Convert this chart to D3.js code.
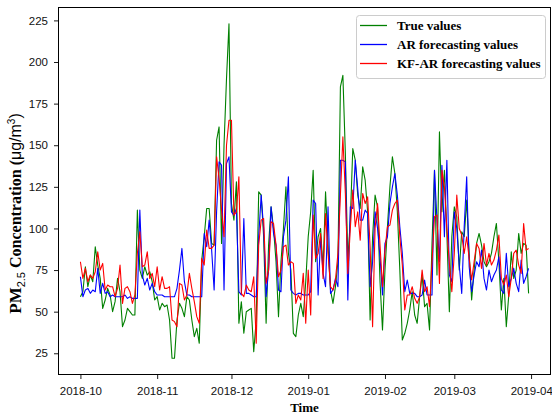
<!DOCTYPE html>
<html>
<head>
<meta charset="utf-8">
<script src="https://cdn.jsdelivr.net/npm/d3@7"></script>
<style>
	body { margin: 0; background: #fff; }
	svg { display: block; }
</style>
</head>
<body>
<div id="chart"></div>
<script>
// daily PM2.5, 2018-10-01 .. 2019-03-31
const startDay		= "2018-10-01";

const trueValues	= [
	59,62,77,65,72,68,89,78,70,52,57,64,60,50,56,70,62,41,45,52,50,48,48,111,75,70,77,72,74,68,57,
	59,51,55,53,54,45,22,22,45,55,52,47,59,57,45,35,40,31,81,95,112,112,91,90,153,161,91,150,190,223,
	115,105,128,43,56,37,50,51,52,26,45,122,120,95,43,90,113,100,80,47,80,100,125,85,75,37,35,48,55,47,68,
	95,110,135,80,95,100,75,122,90,63,55,65,80,185,192,145,81,105,148,141,120,112,137,129,110,45,95,120,113,68,39,
	75,101,125,143,133,110,75,33,37,43,51,62,48,43,59,72,53,55,39,91,135,72,158,110,135,97,50,95,
	113,107,75,98,95,117,85,57,75,91,97,90,80,77,80,85,95,103,80,51,70,41,60,86,70,75,97,85,91,90,61
];
const arValues		= [
	71,59,63,64,61,63,62,76,61,67,61,62,59,60,59,59,59,59,60,58,59,58,58,58,111,72,66,70,63,67,62,
	60,60,60,59,59,59,59,59,64,75,88,68,60,60,59,59,59,59,59,97,89,105,87,63,110,140,138,63,139,143,
	110,108,112,62,60,106,61,61,60,59,59,95,120,100,59,75,113,97,90,63,62,95,105,131,63,61,60,61,61,60,60,
	60,62,117,115,60,95,73,65,113,61,63,70,65,141,141,140,57,113,112,141,124,105,105,111,109,65,80,110,100,83,60,
	91,95,115,125,133,120,101,85,62,69,61,61,61,59,59,60,69,60,60,60,135,105,80,138,95,141,72,68,
	110,100,78,61,101,131,77,62,72,80,77,87,70,63,75,68,72,75,83,63,61,85,65,70,76,67,62,81,67,71,76
];
const kfarValues	= [
	80,70,76,68,72,70,74,86,75,79,63,66,65,65,59,64,78,55,64,65,62,55,60,85,98,77,78,86,70,73,65,
	77,63,71,64,64,65,45,44,41,67,66,57,60,73,64,56,47,43,82,78,99,88,88,90,143,130,111,95,150,165,
	165,108,110,131,61,59,66,63,62,71,31,90,105,106,67,75,104,103,90,71,75,89,90,78,80,79,55,60,57,73,43,
	75,48,108,82,85,97,70,109,85,65,63,69,85,120,155,121,73,100,123,101,110,93,121,115,119,89,41,100,115,90,65,
	87,101,102,111,115,117,95,78,51,60,60,65,58,55,59,75,62,65,53,80,107,108,67,135,125,100,79,62,
	85,120,100,96,85,95,82,69,80,91,88,76,91,78,85,78,81,87,96,70,66,72,59,70,85,87,78,73,103,87,88
];

const seriesNames	= ["True values", "AR forecasting values", "KF-AR forecasting values"];
const seriesColors	= ["green", "blue", "red"];
const yTicks		= [25, 50, 75, 100, 125, 150, 175, 200, 225];
const xTicks		= ["2018-10", "2018-11", "2018-12", "2019-01", "2019-02", "2019-03", "2019-04"];

const canvasWidth	= 552;
const canvasHeight	= 414;
const margin		= { top: 7, right: 1, bottom: 39, left: 58 };
const width			= canvasWidth - margin.left - margin.right;
const height		= canvasHeight - margin.top - margin.bottom;

const parseDay		= d3.utcParse("%Y-%m-%d");
const parseMonth	= d3.utcParse("%Y-%m");
const day0			= parseDay(startDay);
const dates			= trueValues.map((o, i) => d3.utcDay.offset(day0, i));

const series = [trueValues, arValues, kfarValues].map((vals, k) => ({
	name: seriesNames[k],
	color: seriesColors[k],
	values: vals.map((v, i) => ({ date: dates[i], value: v }))
}));

// matplotlib style 5% margins
const xExt	= d3.extent(dates);
const xPad	= (xExt[1] - xExt[0]) * 0.05;
const allV	= [].concat(trueValues, arValues, kfarValues);
const yExt	= d3.extent(allV);
const yPad	= (yExt[1] - yExt[0]) * 0.05;

const x = d3.scaleUtc().range([0, width]).domain([new Date(+xExt[0] - xPad), new Date(+xExt[1] + xPad)]);
const y = d3.scaleLinear().range([height, 0]).domain([yExt[0] - yPad, yExt[1] + yPad]);

const svg = d3.select("#chart").append("svg")
	.attr("width", canvasWidth)
	.attr("height", canvasHeight)
	.append("g")
		.attr("transform", "translate(" + margin.left + "," + margin.top + ")");

const line = d3.line().x((o) => x(o.date)).y((o) => y(o.value));

svg.append("g")
	.selectAll("path")
	.data(series).enter()
	.append("path")
		.attr("fill", "none")
		.attr("stroke", (o) => o.color)
		.attr("stroke-width", 1.1)
		.attr("stroke-linejoin", "round")
		.attr("d", (o) => line(o.values));

const tickFont = "'Liberation Sans', Arial, sans-serif";

const yAxis = svg.append("g")
	.call(d3.axisLeft(y).tickValues(yTicks).tickSize(4).tickPadding(6));
const xAxis = svg.append("g")
	.attr("transform", "translate(0," + height + ")")
	.call(d3.axisBottom(x).tickValues(xTicks.map(parseMonth)).tickFormat(d3.utcFormat("%Y-%m")).tickSize(4).tickPadding(8));

[xAxis, yAxis].forEach((a) => {
	a.select(".domain").remove();
	a.selectAll(".tick line").attr("stroke", "#000").attr("stroke-width", 0.9);
	a.selectAll(".tick text").attr("font-family", tickFont).attr("font-size", 11.5).attr("fill", "#111");
});
// last month label sits on the right edge
xAxis.selectAll(".tick text").filter((d, i) => i === xTicks.length - 1)
	.attr("text-anchor", "end").attr("dx", "1.85em");

// frame
svg.append("rect")
	.attr("x", 0.5).attr("y", 0.5)
	.attr("width", width - 1).attr("height", height - 1)
	.attr("fill", "none").attr("stroke", "#000").attr("stroke-width", 1);

const serif = "'Liberation Serif', 'Times New Roman', serif";

svg.append("text")
	.attr("x", width / 2)
	.attr("y", canvasHeight - margin.top - 2)
	.attr("text-anchor", "middle")
	.attr("font-family", serif).attr("font-weight", "bold").attr("font-size", 13)
	.text("Time");

const yl = svg.append("text")
	.attr("transform", "translate(" + (21 - margin.left) + "," + (213.5 - margin.top) + ") rotate(-90)")
	.attr("text-anchor", "middle")
	.attr("font-family", serif).attr("font-weight", "bold").attr("font-size", 16);
yl.append("tspan").attr("font-size", 17).text("PM");
yl.append("tspan").attr("dy", 4).attr("font-family", tickFont).attr("font-weight", "normal").attr("font-size", 11).text("2.5");
yl.append("tspan").attr("dy", -4).text(" Concentration (");
yl.append("tspan").attr("font-family", tickFont).attr("font-weight", "normal").attr("font-size", 16).text("μg/m");
yl.append("tspan").attr("dy", -6).attr("font-family", tickFont).attr("font-weight", "normal").attr("font-size", 10).text("3");
yl.append("tspan").attr("dy", 6).attr("font-family", tickFont).attr("font-weight", "normal").text(")");

// legend
const legend = svg.append("g").attr("transform", "translate(" + (356 - margin.left) + "," + (15 - margin.top) + ")");
legend.append("rect")
	.attr("x", 0.5).attr("y", 0.5)
	.attr("width", 189).attr("height", 63).attr("rx", 3)
	.attr("fill", "#fff").attr("fill-opacity", 0.8)
	.attr("stroke", "#ccc");

const item = legend.selectAll("g.item")
	.data(series).enter()
	.append("g")
		.attr("class", "item")
		.attr("transform", (o, i) => "translate(0," + (10.5 + i * 19) + ")");
item.append("line")
	.attr("x1", 4).attr("x2", 31)
	.attr("stroke", (o) => o.color).attr("stroke-width", 1.3);
item.append("text")
	.attr("x", 41).attr("dy", "0.35em")
	.attr("font-family", serif).attr("font-weight", "bold").attr("font-size", 13)
	.text((o) => o.name);
</script>
</body>
</html>
